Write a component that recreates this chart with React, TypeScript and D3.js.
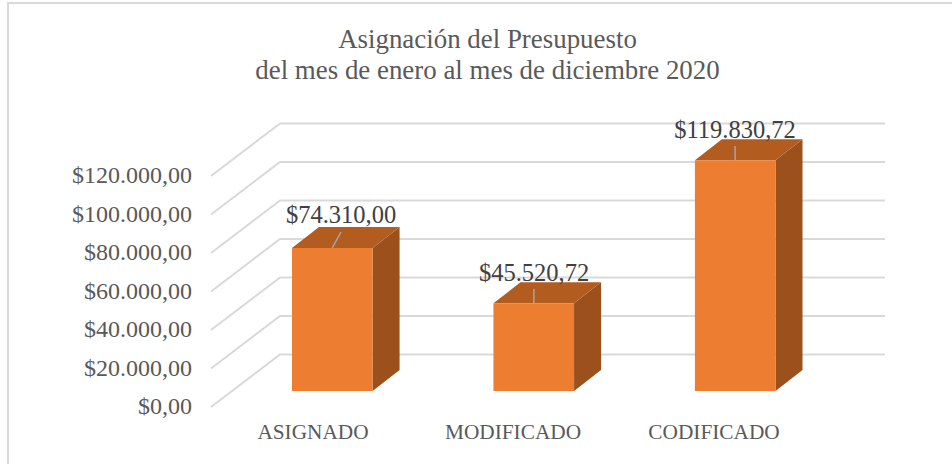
import React from "react";
import * as d3 from "d3";

const W = 952, H = 464;
const categories = ["ASIGNADO", "MODIFICADO", "CODIFICADO"];
const values = [74310, 45520.72, 119830.72];
const valueLabels = ["$74.310,00", "$45.520,72", "$119.830,72"];
const ticks = [0, 20000, 40000, 60000, 80000, 100000, 120000];
const tickLabels = ["$0,00", "$20.000,00", "$40.000,00", "$60.000,00", "$80.000,00", "$100.000,00", "$120.000,00"];
const titleLines = ["Asignación del Presupuesto", "del mes de enero al mes de diciembre 2020"];

const FONT = "'Liberation Serif', serif";
const y = d3.scaleLinear().domain([0, 120000]).range([391, 160]);
const x = d3.scaleBand().domain(categories).range([292, 775.5]).paddingInner(0.6).paddingOuter(0);
const dx = 27, dy = -21;
const gridFrontX = 211, gridBackX = 280, gridRightX = 885;
const gridFrontBase = 407, gridBackBase = 354.5;
const categoryCenters = [313, 513, 714];
const labelCenters = [341, 534, 735];
const labelOffsets = [-25, -22, -22];
const leaderTop: [number, number][] = [[341, 232], [534, 289], [735, 146]];

export default function App() {
  const step = (v: number) => y(0) - y(v);
  const barW = x.bandwidth();
  return (
    <svg width={W} height={H} style={{ position: "absolute", left: 0, top: 0, fontFamily: FONT }}>
      <rect x={8} y={3} width={960} height={480} fill="#fff" stroke="#d9d9d9" strokeWidth={2} />
      {titleLines.map((t, i) => (
        <text key={i} x={487.5} y={48 + i * 30.5} textAnchor="middle" fontSize={26.9} fill="#595959">{t}</text>
      ))}
      {ticks.map((t, i) => {
        const s = step(t);
        return (
          <g key={t}>
            <polyline
              points={`${gridFrontX},${gridFrontBase - s} ${gridBackX},${gridBackBase - s} ${gridRightX},${gridBackBase - s}`}
              fill="none" stroke="#d9d9d9" strokeWidth={2} />
            <text x={192} y={gridFrontBase - s + 7} textAnchor="end" fontSize={24} fill="#595959">{tickLabels[i]}</text>
          </g>
        );
      })}
      {categories.map((c, i) => {
        const left = x(c) as number;
        const top = y(values[i]);
        const base = y(0);
        const right = left + barW;
        const front = d3.path();
        front.rect(left, top, barW, base - top);
        const topFace = d3.line()([[left, top], [left + dx, top + dy], [right + dx, top + dy], [right, top]]) + "Z";
        const side = d3.line()([[right, top], [right + dx, top + dy], [right + dx, base + dy], [right, base]]) + "Z";
        return (
          <g key={c}>
            <path d={side} fill="#9c501c" />
            <path d={topFace} fill="#b35c20" />
            <path d={front.toString()} fill="#ed7d31" />
            <line x1={left + barW / 2} y1={top} x2={leaderTop[i][0]} y2={leaderTop[i][1]} stroke="#a6a6a6" strokeWidth={1.5} />
            <text x={labelCenters[i]} y={top + labelOffsets[i]} textAnchor="middle" fontSize={24.5} fill="#404040">{valueLabels[i]}</text>
            <text x={categoryCenters[i]} y={439} textAnchor="middle" fontSize={21.3} fill="#595959">{c}</text>
          </g>
        );
      })}
    </svg>
  );
}
